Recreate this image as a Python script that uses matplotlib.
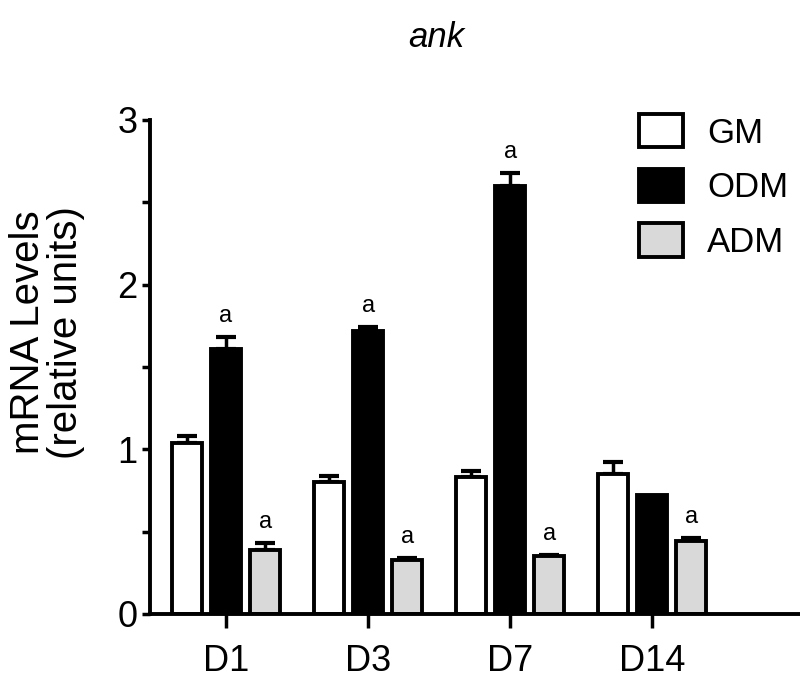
import numpy as np
import matplotlib.pyplot as plt

plt.rcParams['font.family'] = ['Liberation Sans', 'DejaVu Sans']

days = ["D1", "D3", "D7", "D14"]
groups = ["GM", "ODM", "ADM"]
colors = ["white", "black", "#d9d9d9"]

gm = [1.04, 0.80, 0.83, 0.85]
gm_err = [0.04, 0.04, 0.04, 0.07]
odm = [1.61, 1.72, 2.60, 0.72]
odm_err = [0.07, 0.02, 0.08, 0.0]
adm = [0.39, 0.33, 0.35, 0.44]
adm_err = [0.04, 0.01, 0.01, 0.02]

# significance letters (ODM, ADM)
odm_sig = ["a", "a", "a", ""]
adm_sig = ["a", "a", "a", "a"]

fig = plt.figure(figsize=(8, 6.89), dpi=100)
ax = fig.add_axes([0.1875, 0.109, 0.8125, 0.717])

x = np.arange(len(days))
w = 0.21
off = 0.275
series = [(gm, gm_err, None), (odm, odm_err, odm_sig), (adm, adm_err, adm_sig)]
for i, (vals, errs, sig) in enumerate(series):
    xs = x + (i - 1) * off
    ax.bar(xs, vals, w, color=colors[i], edgecolor="black", linewidth=2.8,
           label=groups[i], zorder=2)
    for xi, v, e in zip(xs, vals, errs):
        if e > 0:
            ax.errorbar(xi, v, yerr=[[0], [e]], color="black", capsize=7,
                        capthick=3, elinewidth=2.5, zorder=1)
    if sig:
        for xi, v, e, s in zip(xs, vals, errs, sig):
            ax.text(xi, v + e + 0.06, s, ha="center", va="bottom", fontsize=17)

ax.set_xlim(-0.535, 4.04)
ax.set_ylim(0, 3)
ax.set_xticks(x)
ax.set_xticklabels(days, fontsize=26)
ax.set_yticks([0, 1, 2, 3])
ax.set_yticks([0.5, 1.5, 2.5], minor=True)
ax.tick_params(axis="y", labelsize=26, width=2.5, length=6, pad=3, direction="out")
ax.tick_params(axis="y", which="minor", width=2.5, length=6)
ax.tick_params(axis="x", width=2.5, length=10, pad=12)
for s in ["top", "right"]:
    ax.spines[s].set_visible(False)
for s in ["left", "bottom"]:
    ax.spines[s].set_linewidth(2.8)

ax.set_ylabel("mRNA Levels\n(relative units)", fontsize=29, linespacing=1.0)
ax.yaxis.set_label_coords(-0.10, 0.57)
fig.suptitle("ank", fontsize=25, style="italic", x=0.545, y=0.97)

ax.legend(loc="upper right", bbox_to_anchor=(1.03, 1.075), frameon=False,
          fontsize=25, handlelength=1.25, handleheight=1.1, labelspacing=0.55,
          handletextpad=0.7)

fig.savefig("out.png", dpi=100)
